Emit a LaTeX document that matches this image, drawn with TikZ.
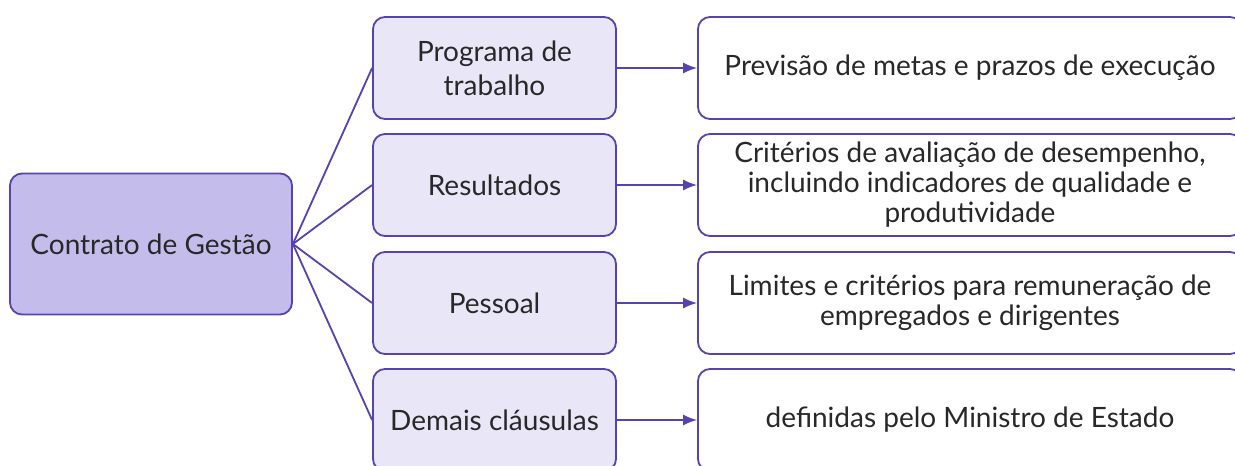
\documentclass[tikz,border=0pt]{standalone}
\usepackage{fontspec}
\setmainfont{Lato}
\usetikzlibrary{arrows.meta}
\definecolor{edgec}{RGB}{83,68,178}
\definecolor{rootc}{RGB}{196,189,236}
\definecolor{itemc}{RGB}{233,230,247}
\definecolor{txtc}{RGB}{40,40,40}
\tikzset{
  box/.style={draw=edgec, line width=1.8pt, rounded corners=12pt, text=txtc,
    align=center, inner sep=0pt, font=\fontsize{28}{34}\selectfont},
  root/.style={box, fill=rootc, minimum width=282pt, minimum height=141pt},
  item/.style={box, fill=itemc, minimum width=243pt, minimum height=102pt},
  goal/.style={box, fill=white, minimum width=544pt, minimum height=102pt,
    font=\fontsize{28}{30}\selectfont},
  link/.style={edgec, line width=1.8pt},
  pointer/.style={link, -{Latex[length=14pt,width=11pt]}}
}
\begin{document}
\begin{tikzpicture}[x=1pt,y=-1pt]
\clip (0,0) rectangle (1235,466);
\fill[white] (0,0) rectangle (1235,466);
\node[root] (cg) at (151,244) {Contrato de Gestão};
% itens do contrato
\node[item] (prog) at (494.5,68) {Programa de\\trabalho};
\node[item] (res) at (494.5,185) {Resultados};
\node[item] (pes) at (494.5,303) {Pessoal};
\node[item] (dem) at (494.5,420) {Demais cláusulas};
\draw[link](cg.east) -- (prog.west);
\draw[link](cg.east) -- (res.west);
\draw[link](cg.east) -- (pes.west);
\draw[link](cg.east) -- (dem.west);
% descricoes
\node[goal] (metas) at (970,68) {Previsão de metas e prazos de execução};
\node[goal] (crit) at (970,185) {Critérios de avaliação de desempenho,\\incluindo indicadores de qualidade e\\produtividade};
\node[goal] (lim) at (970,303) {Limites e critérios para remuneração de\\empregados e dirigentes};
\node[goal] (def) at (970,420) {definidas pelo Ministro de Estado};
\draw[pointer](prog) -- (metas);
\draw[pointer](res) -- (crit);
\draw[pointer](pes) -- (lim);
\draw[pointer](dem) -- (def);
\end{tikzpicture}
\end{document}
